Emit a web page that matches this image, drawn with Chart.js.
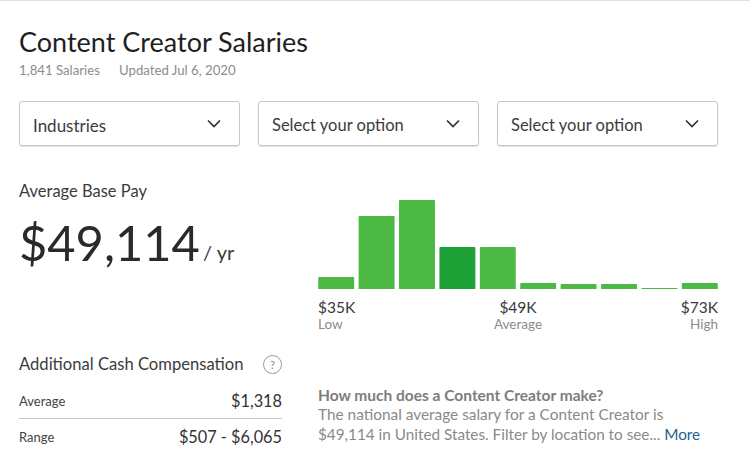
<!DOCTYPE html>
<html>
<head>
<meta charset="utf-8">
<title>Content Creator Salaries</title>
<script src="https://cdn.jsdelivr.net/npm/chart.js@4"></script>
<style>
html, body { margin: 0; padding: 0; background: #fff; }
body { width: 750px; height: 466px; position: relative; overflow: hidden; font-family: Lato, sans-serif; color: #2a2a2a; }
.t { position: absolute; white-space: nowrap; line-height: 1; }
.topline { position: absolute; left: 0; top: 0; width: 750px; height: 1px; background: #dedede; }
.select { position: absolute; top: 101px; width: 219px; height: 43px; border: 1px solid #c6c6c6; border-radius: 3px; box-shadow: 0 1px 1px #e2e2e2; }
.select span { position: absolute; left: 13px; top: 15px; line-height: 1; color: #3c3c3c; white-space: nowrap; }
.select svg { position: absolute; right: 18px; top: 17px; }
.rule { position: absolute; left: 19px; top: 418px; width: 263px; height: 1px; background: #c8c8c8; }
.help { position: absolute; left: 263px; top: 355px; width: 17px; height: 17px; border: 1px solid #9a9a9a; border-radius: 50%; font-size: 11px; line-height: 17px; text-align: center; color: #8a8a8a; }
#chartBox { position: absolute; left: 315.5px; top: 200px; width: 404px; height: 89px; }
</style>
</head>
<body>
<div class="topline"></div>
<div class="t" style="left:19px;top:28px;font-size:27px;color:#1f1f1f">Content Creator Salaries</div>
<div class="t" style="left:19px;top:64px;font-size:13.2px;color:#8c8c8c">1,841 Salaries</div>
<div class="t" style="left:119px;top:64px;font-size:13.2px;color:#8c8c8c">Updated Jul 6, 2020</div>

<div id="selects"></div>

<div class="t" style="left:19px;top:183px;font-size:16.5px;color:#3c3c3c">Average Base Pay</div>
<div class="t" style="left:19px;top:218px;font-size:48.8px;color:#2a2a2a">$49,114</div>
<div class="t" style="left:203px;top:242px;font-size:20px;color:#3c3c3c">/ yr</div>

<div id="chartBox"><canvas id="payChart"></canvas></div>
<div id="tickLabels"></div>

<div class="t" style="left:19px;top:356px;font-size:16.6px;color:#3c3c3c">Additional Cash Compensation</div>
<div class="help">?</div>
<div class="t" style="left:19px;top:395px;font-size:13px;color:#444">Average</div>
<div class="t" style="right:468px;top:393px;font-size:16.3px;color:#333">$1,318</div>
<div class="rule"></div>
<div class="t" style="left:19px;top:431px;font-size:13px;color:#444">Range</div>
<div class="t" style="right:468px;top:429px;font-size:16.3px;color:#333">$507 - $6,065</div>

<div class="t" style="left:318px;top:388px;font-size:15.5px;font-weight:700;color:#7d7d7d">How much does a Content Creator make?</div>
<div class="t" style="left:318px;top:407px;font-size:15.4px;color:#8a8a8a">The national average salary for a Content Creator is</div>
<div class="t" style="left:318px;top:427px;font-size:15.3px;color:#8a8a8a">$49,114 in United States. Filter by location to see... <span style="color:#1f5f8f">More</span></div>

<script>
// ---------------- DATA ----------------
const bins = ["1", "2", "3", "4", "5", "6", "7", "8", "9", "10"];
const binCounts = [12, 73, 89, 42, 42, 6, 5, 5, 1, 6];
const highlightedBin = 3;

const tickValues = ["$35K", "$49K", "$73K"];
const tickNames = ["Low", "Average", "High"];

const selectLabels = ["Industries", "Select your option", "Select your option"];

// ---------------- SELECTS ----------------
const selectLefts = [19, 258, 497];
const selectSizes = [17, 16.5, 16.5];
selectLabels.forEach((label, i) => {
    document.getElementById("selects").innerHTML += `
    <div class="select" style="left:${selectLefts[i]}px">
        <span style="font-size:${selectSizes[i]}px">${label}</span>
        <svg width="14" height="9" viewBox="0 0 14 9"><path d="M1 1.5 L7 7.5 L13 1.5" fill="none" stroke="#333" stroke-width="1.7"/></svg>
    </div>`;
});

// ---------------- TICK LABELS ----------------
const tickStyles = ["left:318px;text-align:left", "left:468px;width:100px;text-align:center", "right:32px;text-align:right"];
tickValues.forEach((value, i) => {
    document.getElementById("tickLabels").innerHTML += `
    <div class="t" style="top:300px;font-size:15.5px;color:#3a3a3a;${tickStyles[i]}">${value}</div>
    <div class="t" style="top:318px;font-size:13.5px;color:#8c8c8c;${tickStyles[i]}">${tickNames[i]}</div>`;
});

// ---------------- CHART ----------------
new Chart(document.getElementById("payChart"), {
    type: "bar",
    data: {
        labels: bins,
        datasets: [{
            data: binCounts,
            backgroundColor: binCounts.map((v, i) => i === highlightedBin ? "#1ea237" : "#4cb944"),
            borderWidth: 0,
            borderRadius: 1,
            barPercentage: 0.89,
            categoryPercentage: 1
        }]
    },
    options: {
        responsive: true,
        maintainAspectRatio: false,
        animation: false,
        layout: { padding: 0 },
        plugins: { legend: { display: false }, tooltip: { enabled: false } },
        scales: {
            x: { display: false },
            y: { display: false, min: 0, max: 89 }
        }
    }
});
</script>
</body>
</html>
